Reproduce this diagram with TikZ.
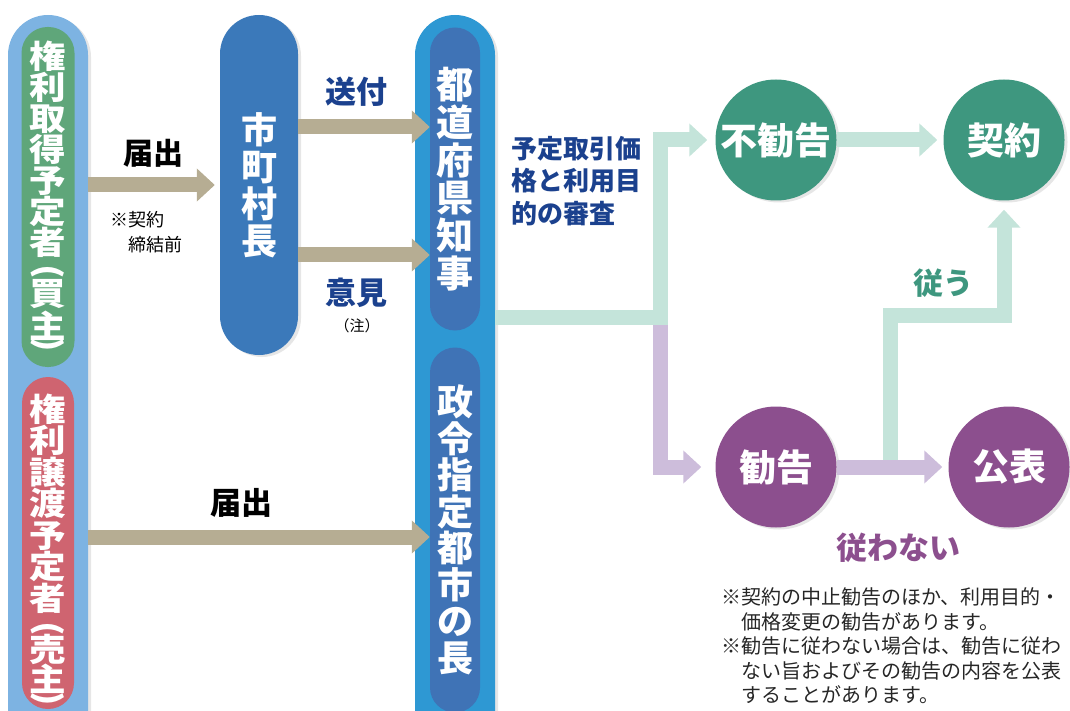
\documentclass[tikz,border=0pt]{standalone}
\usepackage{graphicx}
\usepackage{fontspec}
\setmainfont{Noto Sans CJK JP}
\newfontfamily\widejp[FakeStretch=1.14]{Noto Sans CJK JP}
\usetikzlibrary{arrows.meta,shadows}

\definecolor{skyblue}{HTML}{7DB3E2}
\definecolor{leafgreen}{HTML}{5FA67A}
\definecolor{rosered}{HTML}{CF6470}
\definecolor{cityblue}{HTML}{3B79BA}
\definecolor{govcyan}{HTML}{2E98D3}
\definecolor{govblue}{HTML}{3F73B6}
\definecolor{sand}{HTML}{B6AD93}
\definecolor{mint}{HTML}{C4E4DA}
\definecolor{lilac}{HTML}{CDBDDB}
\definecolor{jade}{HTML}{3E977F}
\definecolor{plum}{HTML}{8C4F8E}
\definecolor{navy}{HTML}{1B418E}

% one glyph of a vertical column, and a turned bracket
\newcommand{\cj}[1]{\smash{#1}}
\newcommand{\vp}[1]{\smash{\raisebox{\dimexpr0.38em-0.5\height+0.5\depth\relax}{\rotatebox{-90}{#1}}}}

\begin{document}
\begin{tikzpicture}[x=1pt,y=-1pt,
  pill/.style={rectangle,inner sep=0pt,align=center,text=white},
  column/.style={anchor=north,inner sep=0pt,align=center,text=white,
    font=\widejp\bfseries\fontsize{32}{#1}\selectfont},
  soft/.style={drop shadow={shadow xshift=3pt,shadow yshift=-2pt,opacity=.2}},
  disc/.style={circle,minimum size=121pt,inner sep=0pt,text=white,soft,
    font=\bfseries\fontsize{37}{37}\selectfont},
  fat/.style={line width=15pt,-{Triangle[width=32pt,length=18pt]}},
  tag/.style={font=\bfseries\fontsize{31}{31}\selectfont}]
  \useasboundingbox (0,0) rectangle (1070,711);
  \clip (0,0) rectangle (1070,711);

  % rows of the arrows
  \coordinate (row1) at (0,185);
  \coordinate (row2) at (0,127);
  \coordinate (row3) at (0,255);
  \coordinate (row4) at (0,537);
  \coordinate (fork) at (660,317);
  \coordinate (obey) at (890,467);
  \coordinate (bend) at (890,315);

  % parties
  \node[pill,soft,fill=skyblue,minimum width=80pt,minimum height=750pt,rounded corners=40pt] (party) at (48,390) {};
  \node[pill,fill=leafgreen,minimum width=53pt,minimum height=340pt,rounded corners=26pt] (buyer) at (48,197) {};
  \node[column=31] (buyertext) at (48,68)
    {\cj{権}\\\cj{利}\\\cj{取}\\\cj{得}\\\cj{予}\\\cj{定}\\\cj{者}\\[-1pt]\vp{(}\\[-10pt]\cj{買}\\[2pt]\cj{主}\\[-12pt]\vp{)}};
  \node[pill,fill=rosered,minimum width=52pt,minimum height=332pt,rounded corners=26pt] (seller) at (48,543) {};
  \node[column=31.5] (sellertext) at (48,421)
    {\cj{権}\\\cj{利}\\\cj{譲}\\\cj{渡}\\\cj{予}\\\cj{定}\\\cj{者}\\[-0.5pt]\vp{(}\\[-11pt]\cj{売}\\[-1.5pt]\cj{主}\\[-12pt]\vp{)}};

  \node[pill,soft,fill=cityblue,minimum width=78pt,minimum height=340pt,rounded corners=39pt,
    font=\bfseries\fontsize{36}{37}\selectfont] (mayor) at (259,185) {市\\町\\村\\長};

  \node[pill,soft,fill=govcyan,minimum width=80pt,minimum height=750pt,rounded corners=40pt] (gov) at (455,390) {};
  \node[pill,fill=govblue,minimum width=50pt,minimum height=303pt,rounded corners=25pt,
    font=\bfseries\fontsize{37}{37.7}\selectfont] (governor) at (455,179)
    {都\\道\\府\\県\\知\\事};
  \node[pill,fill=govblue,minimum width=50pt,minimum height=365pt,rounded corners=25pt,
    font=\bfseries\fontsize{36}{36.5}\selectfont] (citychief) at (455,530)
    {政\\令\\指\\定\\都\\市\\の\\長};

  % results
  \node[disc,fill=jade] (nokan) at (776,140) {不勧告};
  \node[disc,fill=jade] (keiyaku) at (1004,140) {契約};
  \node[disc,fill=plum] (kan) at (776,467) {勧告};
  \node[disc,fill=plum] (kohyo) at (1009,467) {公表};

  % arrows
  \draw[fat,sand,shorten >=5pt] (party.east |- row1) -- (mayor.west |- row1);
  \draw[fat,sand] (mayor.east |- row2) -- (governor.west |- row2);
  \draw[fat,sand] (mayor.east |- row3) -- (governor.west |- row3);
  \draw[fat,sand] (party.east |- row4) -- (citychief.west |- row4);
  \draw[fat,lilac,shorten >=14pt] (fork) |- (kan);
  \draw[fat,mint,shorten >=8pt] (gov.east |- fork) -- (fork) |- (nokan);
  \draw[fat,mint,shorten >=6pt] (nokan) -- (keiyaku);
  \draw[fat,mint,shorten >=9pt] (obey) -- (bend) -| (keiyaku);
  \draw[fat,lilac,shorten >=6pt] (kan) -- (kohyo);

  % labels
  \node[tag,font=\bfseries\fontsize{30}{30}\selectfont] (todoke1) at (153,153) {届出};
  \node[font=\fontsize{18}{25}\selectfont,align=left] (premise) at (146,232) {※契約\\\phantom{※}締結前};
  \node[tag,text=navy] (sofu) at (356,92) {送付};
  \node[tag,text=navy] (iken) at (356,293) {意見};
  \node[font=\fontsize{15}{15}\selectfont] (chu) at (357,326) {（注）};
  \node[tag] (todoke2) at (241,503) {届出};
  \node[text=navy,align=left,font=\bfseries\fontsize{26}{32.5}\selectfont] (review) at (576,181)
    {予定取引価\\格と利用目\\的の審査};
  \node[tag,text=jade,font=\bfseries\fontsize{30}{30}\selectfont] (shitagau) at (943,283) {従う};
  \node[tag,text=plum] (shitagawanai) at (898,548) {従わない};
  \node[align=left,text=black!85,font=\fontsize{20}{24.5}\selectfont] (notes) at (891,646)
    {※契約の中止勧告のほか、利用目的・\\
     　価格変更の勧告があります。\\
     ※勧告に従わない場合は、勧告に従わ\\
     　ない旨およびその勧告の内容を公表\\
     　することがあります。};
\end{tikzpicture}
\end{document}
